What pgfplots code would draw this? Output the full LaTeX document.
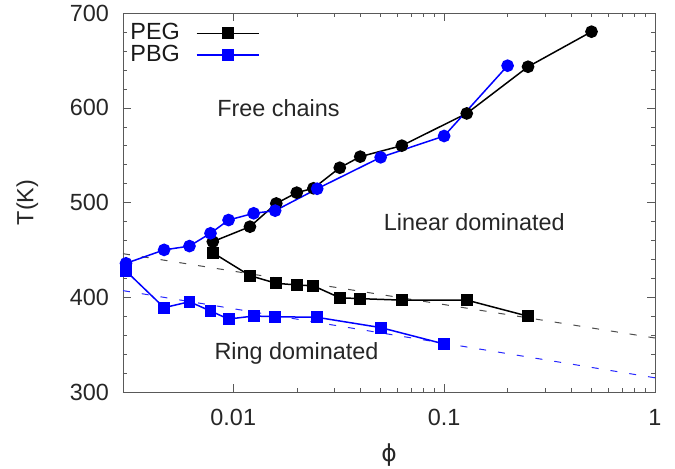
\documentclass[border=0pt]{standalone}
\usepackage{pgfplots}
\pgfplotsset{compat=1.18}
\usepackage{fontspec}
\setmainfont{Liberation Sans}
\newfontfamily\dejavu{DejaVu Sans}
\newcommand{\ff}{\fontsize{11.7}{13.5}\selectfont}
\begin{document}
\ff
\begin{tikzpicture}
\path[use as bounding box] (-61.5pt,-38pt) rectangle (276pt,196pt);
\begin{axis}[
  at={(0,0)}, anchor=south west,
  scale only axis, width=266pt, height=189.5pt,
  xmode=log, xmin=0.003, xmax=1, ymin=300, ymax=700,
  xtick={0.01,0.1,1}, xticklabels={0.01,0.1,1},
  ytick={300,400,500,600,700},
  minor y tick num=4,
  /pgf/number format/assume math mode=true,
  axis line style={black!65},
  tick style={black!65},
  major tick length=4pt, minor tick length=2pt,
  tick label style={font=\ff, text=black!85},
  yticklabel style={xshift=-3pt},
  xticklabel style={yshift=-4.5pt},
  xlabel={\dejavu ϕ}, ylabel={T(K)},
  every axis x label/.style={at={(axis description cs:0.5,-0.166)},anchor=center,text=black!85},
  every axis y label/.style={at={(axis description cs:-0.18,0.5)},anchor=center,rotate=90,text=black!85},
  legend plot pos=right,
  legend cell align=left,
  legend style={draw=none, fill=none, at={(rel axis cs:0,1)}, anchor=north west,
    xshift=-1.5pt, yshift=-1pt, font=\ff, row sep=-3pt, column sep=6pt, text=black!90},
  legend image code/.code={\draw[mark repeat=2,mark phase=2] plot coordinates {(0pt,0pt) (15.5pt,0pt) (31pt,0pt)};},
]
% fitted dashed guide lines
\addplot[black!70, line width=0.5pt, dash pattern=on 3.5pt off 6pt, forget plot] coordinates {(0.003,446) (1,357)};
\addplot[blue!85, line width=0.5pt, dash pattern=on 3.5pt off 6pt, forget plot] coordinates {(0.003,407) (1,315)};

% PEG
\addplot[black, line width=0.75pt, mark=square*, mark size=2.6pt, mark options={solid}] coordinates {
(0.008,447) (0.012,422.8) (0.016,414.7) (0.020,413) (0.024,412) (0.032,399.5) (0.040,398.5) (0.063,397) (0.128,397) (0.25,380)};
\addlegendentry{PEG}
\addplot[black, line width=0.75pt, mark=*, mark size=2.8pt, forget plot] coordinates {
(0.008,458.7) (0.012,474.5) (0.016,499) (0.020,510.4) (0.024,515) (0.032,536.7) (0.040,548.4) (0.063,560) (0.128,594) (0.25,643.3) (0.5,680.3)};

% PBG
\addplot[blue, line width=0.75pt, mark=square*, mark size=2.6pt, mark options={solid, fill=blue}] coordinates {
(0.0031,427.7) (0.0047,389) (0.0062,395.3) (0.0078,385.5) (0.0095,377) (0.0125,380.2) (0.0158,379.5) (0.025,378.8) (0.05,368) (0.1,350.7)};
\addlegendentry{PBG}
\addplot[blue, line width=0.75pt, mark=*, mark size=2.8pt, mark options={fill=blue}, forget plot] coordinates {
(0.0031,435.8) (0.0047,450) (0.0062,454) (0.0078,467.5) (0.0095,481.5) (0.0125,488.6) (0.0158,491.4) (0.025,514.5) (0.05,547.7) (0.1,570.2) (0.2,644.4)};

\node[text=black!85] at (axis cs:0.01637,600) {Free chains};
\node[text=black!85] at (axis cs:0.139,479.4) {Linear dominated};
\node[text=black!85] at (axis cs:0.01995,341.2) {Ring dominated};
\end{axis}
\end{tikzpicture}
\end{document}
